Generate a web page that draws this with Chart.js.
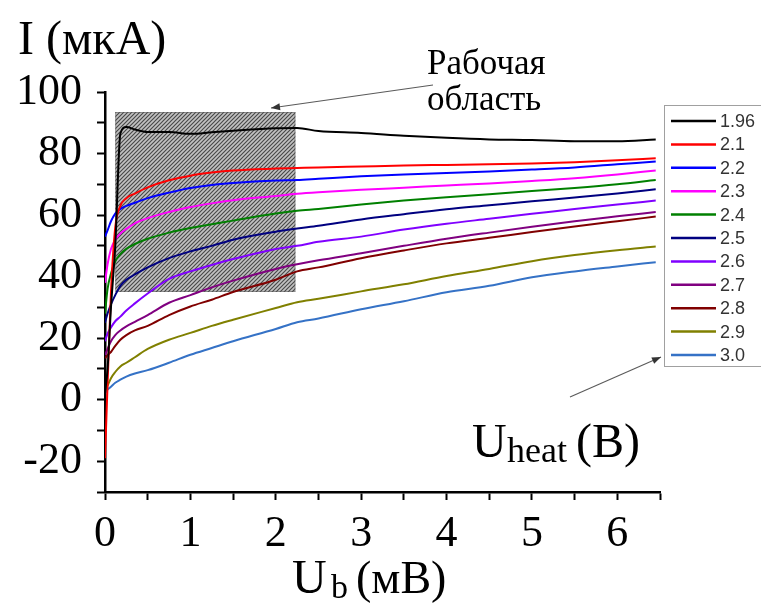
<!DOCTYPE html>
<html>
<head>
<meta charset="utf-8">
<script src="https://cdn.jsdelivr.net/npm/chart.js@4.4.1/dist/chart.umd.min.js"></script>
<style>
  html, body { margin: 0; padding: 0; background: #fff; }
  #wrap { position: relative; width: 761px; height: 603px; }
</style>
</head>
<body>
<div id="wrap"><canvas id="c" width="761" height="603"></canvas></div>
<script>
'use strict';

// ─── DATA ────────────────────────────────────────────────────────────────────
const UB = [0, 0.03, 0.07, 0.12, 0.18, 0.25, 0.35, 0.5, 0.75, 1, 1.25, 1.5, 2, 2.25, 2.5, 3, 3.5, 4, 4.5, 5, 5.5, 6, 6.45];

const HEAT_LABELS = ['1.96', '2.1', '2.2', '2.3', '2.4', '2.5', '2.6', '2.7', '2.8', '2.9', '3.0'];

const I_196 = [2, 10, 30, 50, 86.5, 88.6, 87.8, 87, 87, 86.4, 86.9, 87.4, 88.2, 88.3, 87.3, 86.7, 85.8, 85.1, 84.6, 84.4, 84, 84, 84.6];
const I_21  = [-19, 5, 35, 56, 63, 65.5, 67, 69, 71.3, 72.8, 73.8, 74.5, 75.1, 75.3, 75.5, 75.8, 76.1, 76.3, 76.5, 76.8, 77.2, 77.8, 78.5];
const I_22  = [53, 55, 58, 60.5, 62, 63, 64, 65.5, 67.3, 68.8, 69.8, 70.4, 71.2, 71.4, 71.8, 72.6, 73.2, 73.7, 74.2, 74.8, 75.5, 76.5, 77.4];
const I_23  = [38, 44, 49, 52, 54, 55.5, 57.3, 59, 61, 62.6, 63.8, 64.8, 66.2, 66.9, 67.4, 68.2, 68.9, 69.6, 70.3, 71.1, 72, 73.2, 74.5];
const I_24  = [28, 36, 41, 45, 47.3, 49, 50.6, 52.3, 54.3, 55.8, 57, 58.2, 60.5, 61.4, 62, 63.4, 64.7, 65.8, 66.8, 67.8, 68.8, 70, 71.4];
const I_25  = [25, 28, 31, 34, 37, 39, 40.7, 43, 46, 48.2, 50, 52, 54.6, 55.6, 56.5, 58.6, 60.3, 61.9, 63.2, 64.5, 65.7, 67, 68.4];
const I_26  = [19, 21.5, 23.5, 25.5, 27, 29, 31.3, 34.5, 39.3, 41.7, 43.8, 45.7, 49, 50, 51.3, 53, 55.3, 57.2, 58.8, 60.4, 62, 63.4, 64.7];
const I_27  = [14.5, 16.5, 19, 21, 22.5, 23.8, 25.3, 27.5, 31.5, 34, 36.5, 38.7, 42.5, 44, 45.3, 47.6, 50, 52.3, 54.3, 56.2, 58, 59.6, 61];
const I_28  = [13.5, 14.5, 15.5, 17.5, 19.5, 21, 22.5, 24, 27.5, 30.3, 32.5, 35, 39, 41.7, 43, 46, 48.5, 50.8, 52.6, 54.5, 56.3, 58, 59.5];
const I_29  = [2.7, 4.5, 7, 9, 10.8, 12, 13.8, 16.5, 19.5, 21.7, 24, 26, 29.8, 31.7, 32.8, 35.2, 37.5, 40.2, 42.5, 45, 47, 48.6, 49.8];
const I_30  = [2.3, 3.3, 4.2, 5.5, 6.5, 7.5, 8.5, 9.6, 12, 14.6, 16.8, 19, 23, 25.2, 26.4, 29.4, 32, 34.9, 37, 39.8, 41.7, 43.3, 44.7];

const SERIES = [I_196, I_21, I_22, I_23, I_24, I_25, I_26, I_27, I_28, I_29, I_30];
const COLORS = ['#000000', '#ff0000', '#0000ff', '#ff00ff', '#008000', '#000080',
                '#8000ff', '#800080', '#800000', '#808000', '#3572c6'];

// working area (U_b range, I range)
const BOX_X = [0.12, 2.23];
const BOX_Y = [35, 93.5];

const SERIF = '"Liberation Serif", "Times New Roman", serif';
const SANS = '"Liberation Sans", Arial, sans-serif';

// ─── HELPERS ─────────────────────────────────────────────────────────────────
function hatchPattern(ctx) {
  const t = document.createElement('canvas');
  t.width = 4; t.height = 4;
  const g = t.getContext('2d');
  g.fillStyle = '#c2c2c2';
  g.fillRect(0, 0, 4, 4);
  g.strokeStyle = '#484848';
  g.lineWidth = 1.15;
  g.beginPath();
  g.moveTo(-1, 5); g.lineTo(5, -1);
  g.moveTo(-1, 1); g.lineTo(1, -1);
  g.moveTo(3, 5); g.lineTo(5, 3);
  g.stroke();
  return ctx.createPattern(t, 'repeat');
}

function arrow(ctx, x1, y1, x2, y2) {
  const a = Math.atan2(y2 - y1, x2 - x1);
  ctx.save();
  ctx.strokeStyle = '#5a5a5a';
  ctx.fillStyle = '#333';
  ctx.lineWidth = 1.1;
  ctx.beginPath();
  ctx.moveTo(x1, y1); ctx.lineTo(x2, y2);
  ctx.stroke();
  ctx.beginPath();
  ctx.moveTo(x2, y2);
  ctx.lineTo(x2 - 9 * Math.cos(a) + 3.5 * Math.sin(a), y2 - 9 * Math.sin(a) - 3.5 * Math.cos(a));
  ctx.lineTo(x2 - 9 * Math.cos(a) - 3.5 * Math.sin(a), y2 - 9 * Math.sin(a) + 3.5 * Math.cos(a));
  ctx.closePath();
  ctx.fill();
  ctx.restore();
}

// ─── PLUGINS ─────────────────────────────────────────────────────────────────
const boxPlugin = {
  id: 'workBox',
  beforeDatasetsDraw(chart) {
    const { ctx, scales: { x, y } } = chart;
    const l = x.getPixelForValue(BOX_X[0]), r = x.getPixelForValue(BOX_X[1]);
    const t = y.getPixelForValue(BOX_Y[1]), b = y.getPixelForValue(BOX_Y[0]);
    ctx.save();
    ctx.fillStyle = hatchPattern(ctx);
    ctx.fillRect(l, t, r - l, b - t);
    ctx.strokeStyle = 'rgba(90,90,90,0.5)';
    ctx.lineWidth = 1;
    ctx.strokeRect(l + 0.5, t + 0.5, r - l - 1, b - t - 1);
    ctx.restore();
  }
};

const decorPlugin = {
  id: 'decor',
  afterDraw(chart) {
    const ctx = chart.ctx;
    ctx.save();
    ctx.fillStyle = '#000';
    ctx.textBaseline = 'alphabetic';
    ctx.textAlign = 'left';

    // y title
    ctx.font = '48px ' + SERIF;
    ctx.fillText('I (мкА)', 18, 54);

    // x title
    ctx.font = '48px ' + SERIF;
    ctx.fillText('U', 292, 593);
    ctx.font = '34px ' + SERIF;
    ctx.fillText('b', 331, 598);
    ctx.font = '46px ' + SERIF;
    ctx.fillText('(мВ)', 356, 593);

    // working area note
    ctx.font = '35px ' + SERIF;
    ctx.fillText('Рабочая', 427, 74);
    ctx.fillText('область', 427, 110);
    arrow(ctx, 433, 85, 271, 108);

    // U_heat note
    ctx.font = '48px ' + SERIF;
    ctx.fillText('U', 472, 457);
    ctx.font = '36px ' + SERIF;
    ctx.fillText('heat', 507, 462);
    ctx.font = '48px ' + SERIF;
    ctx.fillText('(В)', 576, 457);
    arrow(ctx, 570, 397, 661, 357);

    // legend
    ctx.strokeStyle = '#a0a0a0';
    ctx.lineWidth = 1;
    ctx.strokeRect(664.5, 105.5, 120, 261);
    ctx.font = '18px ' + SANS;
    ctx.textBaseline = 'middle';
    chart.data.datasets.forEach((ds, i) => {
      const yy = 121 + 23.4 * i;
      ctx.strokeStyle = ds.borderColor;
      ctx.lineWidth = 2.5;
      ctx.beginPath();
      ctx.moveTo(671, yy); ctx.lineTo(716, yy);
      ctx.stroke();
      ctx.fillStyle = '#333';
      ctx.fillText(ds.label, 720, yy + 1);
    });
    ctx.restore();
  }
};

// ─── CHART ───────────────────────────────────────────────────────────────────
const datasets = SERIES.map((vals, i) => ({
  label: HEAT_LABELS[i],
  data: UB.map((u, k) => ({ x: u, y: vals[k] })),
  borderColor: COLORS[i],
  backgroundColor: COLORS[i],
  borderWidth: 2,
  pointRadius: 0,
  cubicInterpolationMode: 'monotone',
  fill: false
}));

const axisCommon = {
  border: { display: true, color: '#000', width: 2.5 },
  grid: { drawOnChartArea: false, drawTicks: true, tickLength: 8, tickColor: '#000', tickWidth: 2 }
};

new Chart(document.getElementById('c'), {
  type: 'line',
  data: { datasets },
  options: {
    responsive: false,
    animation: false,
    devicePixelRatio: 1,
    layout: { padding: { top: 92, right: 101, left: 0, bottom: 0 } },
    plugins: { legend: { display: false }, tooltip: { enabled: false } },
    scales: {
      x: {
        ...axisCommon,
        type: 'linear',
        min: 0, max: 6.5,
        ticks: {
          stepSize: 0.5, autoSkip: false, maxRotation: 0, padding: 8,
          color: '#000', font: { family: SERIF, size: 44 },
          callback: v => Number.isInteger(v) ? String(v) : ''
        },
        afterFit: s => { s.height = 111; }
      },
      y: {
        ...axisCommon,
        min: -30, max: 100,
        ticks: {
          stepSize: 10, autoSkip: false, padding: 15,
          color: '#000', font: { family: SERIF, size: 44 },
          callback: v => v % 20 === 0 ? String(v) : ''
        },
        afterFit: s => { s.width = 105; }
      }
    }
  },
  plugins: [boxPlugin, decorPlugin]
});
</script>
</body>
</html>
